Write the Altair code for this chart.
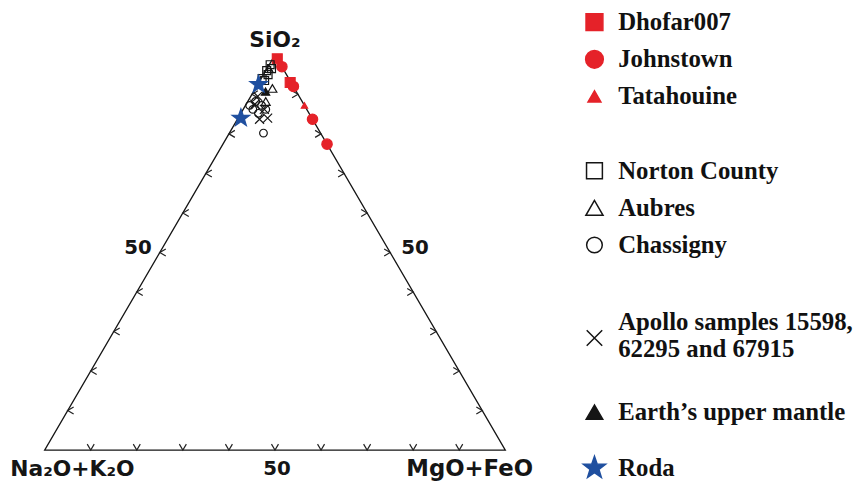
import altair as alt
import pandas as pd

# ---------------- data: compositions in percent (SiO2, Na2O+K2O, MgO+FeO) -------------
dhofar_sio2 = [99.0, 93.0]
dhofar_alk = [0.0, 0.2]
dhofar_maf = [1.0, 6.8]

johnstown_sio2 = [97.0, 92.0, 83.7, 77.4]
johnstown_alk = [0.0, 0.0, 0.0, 0.0]
johnstown_maf = [3.0, 8.0, 16.3, 22.6]

tatahouine_sio2 = [87.2]
tatahouine_alk = [0.0]
tatahouine_maf = [12.8]

norton_sio2 = [97.5, 96.5, 96.0, 95.0, 94.0, 93.5]
norton_alk = [2.3, 2.5, 3.8, 4.0, 5.8, 5.5]
norton_maf = [0.2, 1.0, 0.2, 1.0, 0.2, 1.0]

aubres_sio2 = [91.5, 96.5, 88.2]
aubres_alk = [4.8, 3.1, 7.9]
aubres_maf = [3.7, 0.4, 3.9]

chassigny_sio2 = [80.2, 88.2, 87.2, 86.2, 86.2, 85.2, 87.2]
chassigny_alk = [12.4, 10.1, 9.3, 11.7, 8.9, 11.0, 11.9]
chassigny_maf = [7.4, 1.7, 3.5, 2.1, 4.9, 3.8, 0.9]

apollo_sio2 = [87.5, 86.2, 84.0, 83.7, 89.5]
apollo_alk = [10.6, 9.2, 9.6, 11.5, 9.0]
apollo_maf = [1.9, 4.6, 6.4, 4.8, 1.5]

earth_sio2 = [90.7]
earth_alk = [6.7]
earth_maf = [2.6]

roda_sio2 = [92.5, 84.0]
roda_alk = [7.3, 15.4]
roda_maf = [0.2, 0.6]

APOLLO = "Apollo samples 15598, 62295 and 67915"
APOLLO_LABEL = "Apollo samples 15598,| 62295 and 67915"
EARTH = "Earth\u2019s upper mantle"

series_list = ["Dhofar007", "Johnstown", "Tatahouine", "Norton County", "Aubres",
               "Chassigny", APOLLO, EARTH, "Roda"]
# empty legend rows left before each entry (the gaps between the legend's groups)
legend_gaps = [0, 1, 1, 3, 1, 1, 4, 3, 2]

vertex_names = ["SiO\u2082", "Na\u2082O+K\u2082O", "MgO+FeO"]
ticks = [10, 20, 30, 40, 50, 60, 70, 80, 90]

# ---------------- tables -------------
groups = [
    ("Dhofar007", dhofar_sio2, dhofar_alk, dhofar_maf),
    ("Johnstown", johnstown_sio2, johnstown_alk, johnstown_maf),
    ("Tatahouine", tatahouine_sio2, tatahouine_alk, tatahouine_maf),
    ("Norton County", norton_sio2, norton_alk, norton_maf),
    ("Aubres", aubres_sio2, aubres_alk, aubres_maf),
    ("Chassigny", chassigny_sio2, chassigny_alk, chassigny_maf),
    (APOLLO, apollo_sio2, apollo_alk, apollo_maf),
    (EARTH, earth_sio2, earth_alk, earth_maf),
    ("Roda", roda_sio2, roda_alk, roda_maf),
]
rows = []
for name, s, a, m in groups:
    for si, al, ma in zip(s, a, m):
        rows.append({"series": name, "sio2": si, "alk": al, "maf": ma})
points = pd.DataFrame(rows)

legend_slots = []
for name, gap in zip(series_list, legend_gaps):
    legend_slots += ["_gap%d" % (len(legend_slots) + k) for k in range(gap)]
    legend_slots.append(name)

legend_df = pd.DataFrame({
    "series": series_list,
    "label": [APOLLO_LABEL if s == APOLLO else s for s in series_list],
})

frame = pd.DataFrame({"sio2": [100, 0, 0, 100], "alk": [0, 100, 0, 0],
                      "maf": [0, 0, 100, 0], "order": [0, 1, 2, 3]})
vertices = pd.DataFrame({"name": vertex_names, "sio2": [100, 0, 0],
                         "alk": [0, 100, 0], "maf": [0, 0, 100]})
mids = pd.DataFrame({"side": ["left", "right", "bottom"], "label": ["50", "50", "50"],
                     "sio2": [50, 50, 0], "alk": [50, 0, 50], "maf": [0, 50, 50]})
tick_left = pd.DataFrame({"sio2": ticks, "alk": [100 - t for t in ticks], "maf": [0] * 9})
tick_right = pd.DataFrame({"sio2": ticks, "alk": [0] * 9, "maf": [100 - t for t in ticks]})
tick_bottom = pd.DataFrame({"sio2": [0] * 9, "alk": [100 - t for t in ticks], "maf": ticks})

# ---------------- styles -------------
RED = "#e52229"
BLUE = "#1f4f9f"
BLK = "#151515"
XPATH = "M-0.7,-0.7L0.7,0.7M-0.7,0.7L0.7,-0.7"
STAR = ("M0,-1L0.235,-0.324L0.951,-0.309L0.38,0.124L0.588,0.809L0,0.4"
        "L-0.588,0.809L-0.38,0.124L-0.951,-0.309L-0.235,-0.324Z")

shape_range = ["square", "circle", "triangle-up", "square", "triangle-up", "circle",
               XPATH, "triangle-up", STAR]
fill_range = [RED, RED, RED, "transparent", "transparent", "transparent", "transparent",
              BLK, BLUE]
stroke_range = [RED, RED, RED, BLK, BLK, BLK, BLK, BLK, BLUE]
plot_sizes = [100, 110, 40, 64, 80, 60, 170, 70, 350]
legend_sizes = [290, 320, 170, 256, 300, 250, 500, 280, 560]

SHAPE = alt.Scale(domain=series_list, range=shape_range)
FILL = alt.Scale(domain=series_list, range=fill_range)
STROKE = alt.Scale(domain=series_list, range=stroke_range)

X = alt.Scale(domain=[-0.07957, 1.75914], nice=False, zero=False)
Y = alt.Scale(domain=[-0.09273, 1.11278], nice=False, zero=False)

def tern(chart):
    return chart.transform_calculate(
        tot="datum.sio2 + datum.alk + datum.maf"
    ).transform_calculate(
        tx="(datum.maf + datum.sio2 / 2) / datum.tot",
        ty="datum.sio2 / datum.tot",
    )

xenc = alt.X("tx:Q", scale=X, axis=None)
yenc = alt.Y("ty:Q", scale=Y, axis=None)

triangle = tern(alt.Chart(frame).mark_line(color=BLK, strokeWidth=1.3)).encode(
    x=xenc, y=yenc, order="order:Q")

TL = "M0.85,-0.5L0,0L0.85,0.5"
TR = "M-0.85,-0.5L0,0L-0.85,0.5"
TB = "M-0.5,-0.85L0,0L0.5,-0.85"
tick_layers = [
    tern(alt.Chart(df).mark_point(shape=shp, size=200, color="#222222", strokeWidth=1.2,
                                  filled=False, opacity=1)).encode(x=xenc, y=yenc)
    for df, shp in [(tick_left, TL), (tick_right, TR), (tick_bottom, TB)]
]

markers = tern(alt.Chart(points).mark_point(opacity=1, strokeWidth=1.2)).encode(
    x=xenc, y=yenc,
    shape=alt.Shape("series:N", scale=SHAPE, legend=None),
    fill=alt.Fill("series:N", scale=FILL, legend=None),
    stroke=alt.Stroke("series:N", scale=STROKE, legend=None),
    size=alt.Size("series:N", scale=alt.Scale(type="ordinal", domain=series_list, range=plot_sizes),
                  legend=None),
)

def vlabel(name, dx, dy, size):
    return tern(alt.Chart(vertices).transform_filter(alt.datum.name == name).mark_text(
        font="DejaVu Sans", fontWeight="bold", fontSize=size, color=BLK,
        dx=dx, dy=dy, baseline="middle", align="center")).encode(x=xenc, y=yenc, text="name:N")

def mlabel(side, dx, dy):
    return tern(alt.Chart(mids).transform_filter(alt.datum.side == side).mark_text(
        font="DejaVu Sans", fontWeight="bold", fontSize=20, color=BLK,
        dx=dx, dy=dy, baseline="middle", align="center")).encode(x=xenc, y=yenc, text="label:N")

labels = [
    vlabel(vertex_names[0], 0, -15, 22),
    vlabel(vertex_names[1], 28, 19, 22),
    vlabel(vertex_names[2], -36, 19, 23),
    mlabel("left", -22, -4),
    mlabel("right", 25, -4),
    mlabel("bottom", 2, 19),
]

# ---------------- legend (drawn with the same shape / fill / stroke scales) -------------
LY = alt.Y("series:N", scale=alt.Scale(type="point", domain=legend_slots, range=[12, 462], padding=0),
           axis=None)
leg_sym = alt.Chart(legend_df).mark_point(opacity=1, strokeWidth=1.5).encode(
    x=alt.value(592), y=LY,
    shape=alt.Shape("series:N", scale=SHAPE, legend=None),
    fill=alt.Fill("series:N", scale=FILL, legend=None),
    stroke=alt.Stroke("series:N", scale=STROKE, legend=None),
    size=alt.Size("series:N", scale=alt.Scale(type="ordinal", domain=series_list, range=legend_sizes),
                  legend=None),
)
txt_style = dict(font="Liberation Serif", fontWeight="bold", fontSize=25, color="#111111",
                 align="left", baseline="middle", lineBreak="|", lineHeight=27)
leg_txt = alt.Chart(legend_df).transform_filter(alt.datum.series != APOLLO).mark_text(
    **txt_style).encode(x=alt.value(616), y=LY, text="label:N")
leg_txt2 = alt.Chart(legend_df).transform_filter(alt.datum.series == APOLLO).mark_text(
    dy=-16, **txt_style).encode(x=alt.value(616), y=LY, text="label:N")

chart = alt.layer(triangle, *tick_layers, markers, *labels, leg_sym, leg_txt, leg_txt2).resolve_scale(
    y="independent", size="independent"
).properties(
    width=855, height=481, padding=0, autosize="none", background="white"
).configure_view(stroke=None)

chart.save("out.html", embed_options={"renderer": "svg", "actions": False})
